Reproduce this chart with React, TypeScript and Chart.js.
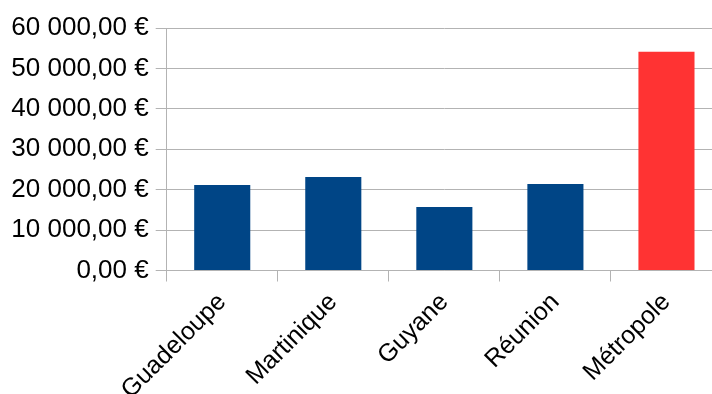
import React, { useEffect, useRef } from "react";
import { Chart, registerables } from "chart.js";

Chart.register(...registerables);

const regions = ["Guadeloupe", "Martinique", "Guyane", "Réunion", "Métropole"];
const amounts = [21150, 23150, 15700, 21400, 54100];
const barColors = ["#004586", "#004586", "#004586", "#004586", "#ff3333"];
const yMin = 0;
const yMax = 60000;
const yStep = 10000;

const FONT = "'Liberation Sans', Arial, sans-serif";
const GRID = "#b3b3b3";

function euro(v: number): string {
  const whole = Math.round(v).toString().replace(/\B(?=(\d{3})+(?!\d))/g, " ");
  return `${whole},00 €`;
}

export default function App() {
  const canvasRef = useRef<HTMLCanvasElement | null>(null);

  useEffect(() => {
    const canvas = canvasRef.current;
    if (!canvas) return;
    const chart = new Chart(canvas, {
      type: "bar",
      data: {
        labels: regions,
        datasets: [
          {
            data: amounts,
            backgroundColor: barColors,
            borderWidth: 0,
            categoryPercentage: 1,
            barPercentage: 0.505,
          },
        ],
      },
      options: {
        responsive: false,
        animation: false,
        devicePixelRatio: 1,
        layout: { padding: { top: 28, left: 0, right: 0, bottom: 0 } },
        plugins: {
          legend: { display: false },
          tooltip: { enabled: false },
        },
        scales: {
          x: {
            offset: true,
            grid: {
              offset: true,
              drawOnChartArea: false,
              drawTicks: true,
              tickLength: 11,
              color: GRID,
              lineWidth: 1,
            },
            border: { display: true, color: GRID, width: 1 },
            ticks: {
              minRotation: 45,
              maxRotation: 45,
              padding: 6,
              color: "#000",
              font: { family: FONT, size: 25 },
            },
            afterFit: (scale: any) => {
              scale.height = 123.5;
            },
          },
          y: {
            min: yMin,
            max: yMax,
            grid: {
              color: GRID,
              lineWidth: 1,
              tickLength: 11,
              drawTicks: true,
            },
            border: { display: true, color: GRID, width: 1 },
            ticks: {
              stepSize: yStep,
              padding: 7,
              color: "#000",
              font: { family: FONT, size: 26 },
              callback: (v: any) => euro(Number(v)),
            },
            afterFit: (scale: any) => {
              scale.width = 166.7;
            },
          },
        },
      },
    });
    return () => chart.destroy();
  }, []);

  return (
    <div
      style={{
        position: "fixed",
        left: 0,
        top: 0,
        width: 712,
        height: 394,
        overflow: "hidden",
        background: "#fff",
      }}
    >
      <canvas ref={canvasRef} width={722} height={394} style={{ display: "block" }} />
    </div>
  );
}
